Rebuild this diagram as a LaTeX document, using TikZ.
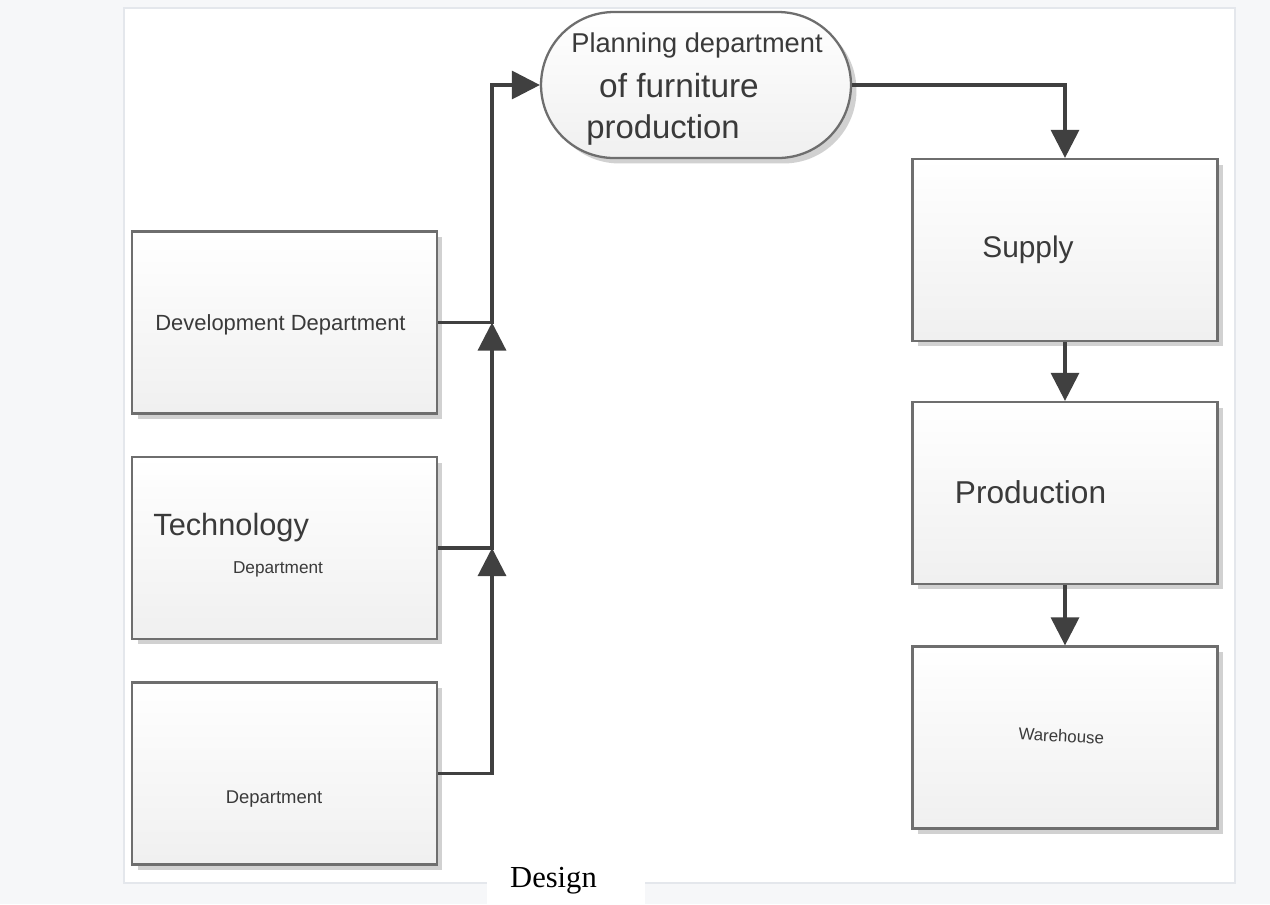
\documentclass[tikz,border=0pt]{standalone}
\usepackage{fontspec}
\setmainfont{Liberation Sans}
\newfontfamily\designfont{Liberation Serif}
\usetikzlibrary{arrows.meta,shapes.misc,shadows}

\definecolor{linegray}{HTML}{404040}
\definecolor{framegray}{HTML}{6E6E6E}
\definecolor{textgray}{HTML}{3A3A3A}
\definecolor{pagegray}{HTML}{F6F7F9}
\definecolor{panelline}{HTML}{E4E7EC}

\begin{document}
\begin{tikzpicture}[x=0.02cm, y=-0.02cm]

        % Styles for the boxes, the flow lines and the labels
        \tikzset{
            dept/.style={draw=framegray, line width=1.3pt, top color=white, bottom color=black!6,
                minimum width=6.1cm, minimum height=3.64cm, inner sep=0pt,
                drop shadow={shadow xshift=0.11cm, shadow yshift=-0.11cm, fill=black!18, opacity=1}},
            pill/.style={dept, rounded rectangle, minimum width=6.2cm, minimum height=2.92cm},
            flow/.style={draw=linegray, line width=1.8pt, -{Triangle[length=0.56cm, width=0.56cm]}},
            lbl/.style={text=textgray, inner sep=0pt, anchor=base},
            fs/.style={font=\fontsize{#1}{#1}\selectfont}
        }

        % --- Page and panel ---
        \useasboundingbox (0,0) rectangle (1270,904);
        \fill[pagegray] (0,0) rectangle (1270,904);
        \draw[panelline, fill=white, line width=0.6pt] (124,8) rectangle (1235,883);

        % --- Departments on the left ---
        \node[dept] (dev) at (284.5,322.5) {};
        \node[dept] (tech) at (284.5,548) {};
        \node[dept] (design) at (284.5,773.5) {};

        \node[lbl, fs=12.5] (devtxt) at (280.5,330) {Development Department};
        \node[lbl, fs=17.5, anchor=base west] (techtxt) at (153,535) {Technology};
        \node[lbl, fs=9.8] (techdep) at (278,573) {Department};
        \node[lbl, fs=10.5] (designdep) at (274,803) {Department};

        % --- Planning department ---
        \node[pill] (plan) at (696,85) {};
        \node[lbl, fs=15.5] (plan1) at (697,52) {Planning department};
        \node[lbl, fs=19] (plan2) at (679,97) {of furniture};
        \node[lbl, fs=18.7] (plan3) at (663,138) {production};

        % --- Chain on the right ---
        \node[dept] (supply) at (1065,250) {};
        \node[dept] (prod) at (1065,493) {};
        \node[dept] (store) at (1065,737.5) {};

        \node[lbl, fs=17] (supplytxt) at (1028,257) {Supply};
        \node[lbl, fs=18] (prodtxt) at (1030.5,503) {Production};
        \node[lbl, fs=9.6, rotate=-3] (storetxt) at (1061,742) {Warehouse};

        % --- Flow lines ---
        \coordinate (bus) at (492,0);
        \draw[flow] (design.east) -- (design.east -| bus) -- (tech.east -| bus);
        \draw[flow] (tech.east) -- (tech.east -| bus) -- (dev.east -| bus);
        \draw[flow] (dev.east) -- (dev.east -| bus) |- (plan.west);
        \draw[flow] (plan.east) -| (supply.north);
        \draw[flow] (supply.south) -- (prod.north);
        \draw[flow] (prod.south) -- (store.north);

        % --- Caption ---
        \fill[white] (487,879) rectangle (645,904);
        \node[lbl, text=black, font={\designfont\fontsize{17.4}{17.4}\selectfont}] (caption) at (553.5,887) {Design};

    \end{tikzpicture}
\end{document}
